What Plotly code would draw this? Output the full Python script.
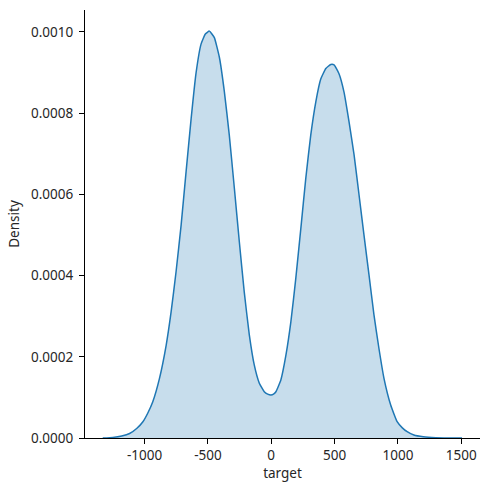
import plotly.graph_objects as go

# KDE curve (target vs density)
target = [-1330, -1250, -1180, -1118, -1060, -1013, -975, -935, -882, -829, -790,
          -751, -711, -672, -632, -593, -554, -520, -488, -449, -409, -370, -331,
          -291, -252, -213, -173, -134, -94, -55, -28, -2, 18, 37, 76, 116, 155,
          194, 234, 273, 312, 352, 391, 431, 470, 496, 535, 575, 614, 654, 693,
          732, 772, 811, 850, 890, 943, 994, 1035, 1073, 1126, 1200, 1300, 1400,
          1506]
density = [0.0, 0.0000015, 0.000005, 0.000011, 0.000024, 0.00004, 0.000061,
           0.0000894, 0.000147, 0.000229, 0.000311, 0.00041, 0.000525, 0.000656,
           0.000787, 0.000900, 0.000970, 0.000995, 0.001002, 0.000986, 0.000937,
           0.000853, 0.000746, 0.000615, 0.000484, 0.00036, 0.000254, 0.00018,
           0.000135, 0.000114, 0.000108, 0.000106, 0.000108, 0.000114, 0.000143,
           0.000204, 0.000286, 0.000393, 0.000517, 0.00064, 0.000746, 0.000828,
           0.000884, 0.000910, 0.000920, 0.000919, 0.000897, 0.000851, 0.000779,
           0.000697, 0.000599, 0.0005, 0.000401, 0.000303, 0.000221, 0.000147,
           0.0000813, 0.0000402, 0.000025, 0.0000156, 0.0000074, 0.000003,
           0.0000008, 0.0000002, 0.0]

x_ticks = [-1000, -500, 0, 500, 1000, 1500]
x_labels = ["-1000", "-500", "0", "500", "1000", "1500"]
y_ticks = [0.0, 0.0002, 0.0004, 0.0006, 0.0008, 0.0010]
y_labels = ["0.0000", "0.0002", "0.0004", "0.0006", "0.0008", "0.0010"]

font = "Noto Sans, DejaVu Sans, sans-serif"

fig = go.Figure()
fig.add_trace(go.Scatter(
    x=target, y=density, mode="lines",
    line=dict(color="#1f77b4", width=1.5, shape="spline", smoothing=0.4),
    fill="tozeroy", fillcolor="rgba(31,119,180,0.25)",
    showlegend=False, hoverinfo="skip",
))

fig.update_layout(
    width=490, height=490,
    margin=dict(l=85, r=10, t=10, b=52),
    paper_bgcolor="white", plot_bgcolor="white",
    font=dict(family=font, size=13.5, color="#262626"),
)
fig.update_xaxes(
    range=[-1470, 1648], showgrid=False, zeroline=False,
    showline=True, linecolor="black", linewidth=1.1,
    ticks="outside", ticklen=5, tickwidth=1.1, tickcolor="black",
    tickvals=x_ticks, ticktext=x_labels, ticklabelstandoff=0,
    title=dict(text="target", standoff=4, font=dict(size=13.5)),
    automargin=False,
)
fig.update_yaxes(
    range=[0, 0.001054], showgrid=False, zeroline=False,
    showline=True, linecolor="black", linewidth=1.1,
    ticks="outside", ticklen=5, tickwidth=1.1, tickcolor="black",
    tickvals=y_ticks, ticktext=y_labels, ticklabelstandoff=3,
    title=dict(text="Density", standoff=8, font=dict(size=13.5)),
    automargin=False,
)

fig.write_html("out.html", config={"displayModeBar": False},
               post_script="document.body.style.margin='0';document.body.style.padding='0';")
